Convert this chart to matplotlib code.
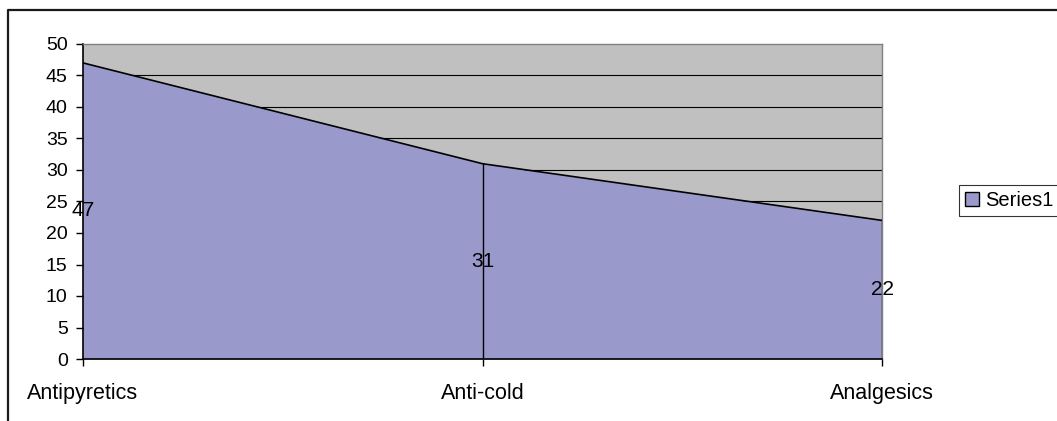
import matplotlib.pyplot as plt
from matplotlib.patches import Rectangle
from matplotlib.lines import Line2D

plt.rcParams['font.family'] = ['Liberation Sans', 'DejaVu Sans']

categories = ['Antipyretics', 'Anti-cold', 'Analgesics']
values = [47, 31, 22]
series_name = 'Series1'

W, H = 1057, 421
fig = plt.figure(figsize=(W / 100, H / 100), dpi=100)

# outer chart border, only top and left visible (the rest is cropped)
fig.lines.append(Line2D([7.5 / W, 7.5 / W, 1.01], [-0.01, 1 - 10 / H, 1 - 10 / H],
                        transform=fig.transFigure, color='#1a1a1a', linewidth=1.6))

ax = fig.add_axes([83 / W, 1 - 359 / H, (882 - 83) / W, (359 - 44) / H])
ax.set_facecolor('#C0C0C0')

x = list(range(len(categories)))
ax.fill_between(x, values, 0, color='#9999CC', linewidth=0, label=series_name, zorder=2)
ax.plot(x, values, color='black', linewidth=1.2, zorder=3)
for xi, v in zip(x[1:], values[1:]):
    ax.plot([xi, xi], [0, v], color='black', linewidth=1, zorder=3)

for yv in range(5, 50, 5):
    ax.axhline(yv, color='black', linewidth=0.8, zorder=1)

for xi, v in zip(x, values):
    ax.text(xi, v / 2, str(v), ha='center', va='center', fontsize=15, zorder=4)

ax.set_xlim(0, len(categories) - 1)
ax.set_ylim(0, 50)
ax.set_yticks(range(0, 51, 5))
ax.set_xticks(x)
ax.set_xticklabels(categories)
ax.tick_params(axis='both', direction='out', length=5, width=1, color='black')
ax.tick_params(axis='x', labelsize=15.5, pad=12)
ax.tick_params(axis='y', labelsize=14, pad=6)

for side in ['top', 'right']:
    ax.spines[side].set_color('#808080')
    ax.spines[side].set_linewidth(1)
for side in ['left', 'bottom']:
    ax.spines[side].set_color('black')
    ax.spines[side].set_linewidth(1.2)

leg = fig.legend(handles=[Rectangle((0, 0), 1, 1, facecolor='#9999CC', edgecolor='black', linewidth=1)],
                 labels=[series_name], loc='upper left', bbox_to_anchor=(959 / W, 1 - 185 / H),
                 frameon=True, fancybox=False, fontsize=14.5, handlelength=0.7, handleheight=0.7,
                 handletextpad=0.3, borderpad=0.3, borderaxespad=0)
leg.get_frame().set_edgecolor('black')
leg.get_frame().set_linewidth(0.8)

fig.savefig('out.png', dpi=100)
